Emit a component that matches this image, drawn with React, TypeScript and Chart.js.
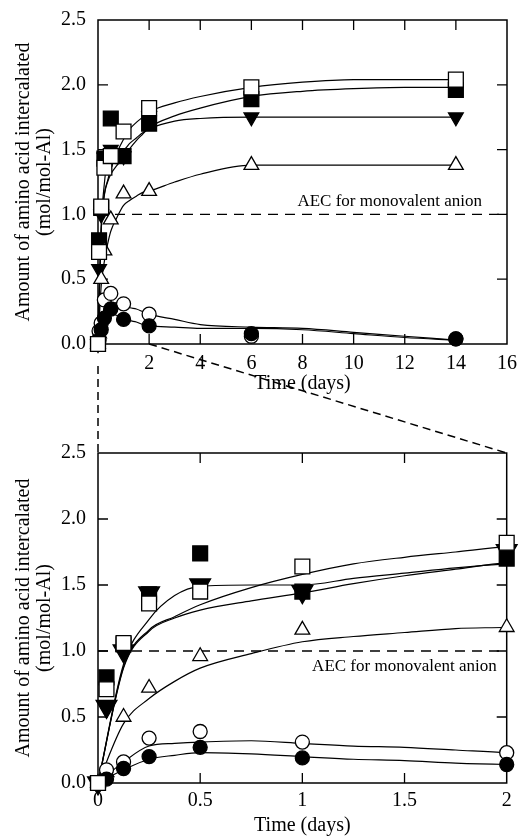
import React, { useEffect, useRef } from "react";
import { Chart, registerables } from "chart.js";

Chart.register(...registerables);

const FONT = "'Liberation Serif', 'Times New Roman', serif";

// ---- measured data (days, mol/mol-Al) ----
const TIME_DAYS = [0, 1 / 24, 0.125, 0.25, 0.5, 1, 2, 6, 14];
const SQ_FILLED = [0, 0.8, 1.05, 1.43, 1.74, 1.45, 1.7, 1.89, 1.96];
const SQ_OPEN = [0, 0.71, 1.06, 1.36, 1.45, 1.64, 1.82, 1.98, 2.04];
const TRI_DOWN = [0, 0.58, 1.0, 1.44, 1.5, 1.45, 1.76, 1.75, 1.75];
const TRI_UP = [0, 0.08, 0.5, 0.72, 0.96, 1.16, 1.18, 1.38, 1.38];
const CIRC_OPEN = [0, 0.1, 0.16, 0.34, 0.39, 0.31, 0.23, 0.06, 0.04];
const CIRC_FILLED = [0, 0.03, 0.11, 0.2, 0.27, 0.19, 0.14, 0.08, 0.04];

// ---- fitted curves ----
const FIT_T = [0, 0.125, 0.25, 0.375, 0.5, 0.75, 1, 1.25, 1.5, 1.75, 2, 3, 4, 6, 8, 10, 12, 14];
const FIT_SQ_OPEN = [0, 0.88, 1.16, 1.26, 1.35, 1.48, 1.58, 1.66, 1.71, 1.75, 1.79, 1.86, 1.91, 1.98, 2.02, 2.04, 2.04, 2.04];
const FIT_SQ_FILLED = [0, 0.87, 1.15, 1.25, 1.31, 1.38, 1.44, 1.51, 1.57, 1.62, 1.67, 1.76, 1.82, 1.91, 1.95, 1.97, 1.98, 1.98];
const FIT_TRI_DOWN = [0, 0.9, 1.24, 1.42, 1.49, 1.5, 1.5, 1.55, 1.59, 1.63, 1.66, 1.72, 1.74, 1.75, 1.75, 1.75, 1.75, 1.75];
const FIT_TRI_UP = [0, 0.45, 0.64, 0.77, 0.87, 0.98, 1.07, 1.11, 1.14, 1.17, 1.18, 1.25, 1.31, 1.38, 1.38, 1.38, 1.38, 1.38];
const FIT_CIRC_OPEN = [0, 0.16, 0.28, 0.3, 0.31, 0.32, 0.3, 0.28, 0.27, 0.25, 0.23, 0.19, 0.15, 0.13, 0.12, 0.09, 0.06, 0.03];
const FIT_CIRC_FILLED = [0, 0.1, 0.18, 0.21, 0.23, 0.22, 0.2, 0.18, 0.17, 0.15, 0.14, 0.13, 0.12, 0.12, 0.11, 0.08, 0.05, 0.03];

const AEC_LEVEL = 1.0;
const AEC_LABEL = "AEC for monovalent anion";
const X_TITLE = "Time (days)";
const Y_TITLE = ["Amount of amino acid intercalated", "(mol/mol-Al)"];
const Y_TICKS = [0, 0.5, 1, 1.5, 2, 2.5];
const Y_TICK_LABELS = ["0.0", "0.5", "1.0", "1.5", "2.0", "2.5"];
const TOP_X_TICKS = [0, 2, 4, 6, 8, 10, 12, 14, 16];
const TOP_X_LABELS = ["", "2", "4", "6", "8", "10", "12", "14", "16"];
const BOTTOM_X_TICKS = [0, 0.5, 1, 1.5, 2];
const BOTTOM_X_LABELS = ["0", "0.5", "1", "1.5", "2"];
const TOP_X_MAX = 16;
const BOTTOM_X_MAX = 2;
const Y_MAX = 2.5;

type Series = {
  values: number[];
  fit: number[];
  style: string;
  rot: number;
  filled: boolean;
  order: number;
};

const SERIES: Series[] = [
  { values: SQ_FILLED, fit: FIT_SQ_FILLED, style: "rect", rot: 0, filled: true, order: 10 },
  { values: TRI_DOWN, fit: FIT_TRI_DOWN, style: "triangle", rot: 180, filled: true, order: 9 },
  { values: TRI_UP, fit: FIT_TRI_UP, style: "triangle", rot: 0, filled: false, order: 8 },
  { values: CIRC_OPEN, fit: FIT_CIRC_OPEN, style: "circle", rot: 0, filled: false, order: 7 },
  { values: CIRC_FILLED, fit: FIT_CIRC_FILLED, style: "circle", rot: 0, filled: true, order: 6 },
  { values: SQ_OPEN, fit: FIT_SQ_OPEN, style: "rect", rot: 0, filled: false, order: 5 },
];

function radiusFor(s: Series, isTop: boolean) {
  if (s.style === "rect") return 10.5;
  if (s.style === "circle") return 7;
  if (s.rot === 180) return isTop ? 8.5 : 12;
  return 8.5;
}

function buildDatasets(xMax: number, isTop: boolean) {
  const ds: any[] = [];
  ds.push({
    data: [
      { x: 0, y: AEC_LEVEL },
      { x: xMax, y: AEC_LEVEL },
    ],
    borderColor: "#000",
    borderWidth: 1.3,
    borderDash: [10, 7],
    pointRadius: 0,
    fill: false,
    order: 30,
  });
  for (const s of SERIES) {
    ds.push({
      data: FIT_T.map((t, i) => ({ x: t, y: s.fit[i] })),
      borderColor: "#000",
      borderWidth: 1.2,
      pointRadius: 0,
      fill: false,
      cubicInterpolationMode: "monotone",
      order: 20,
    });
  }
  for (const s of SERIES) {
    const pts = TIME_DAYS.map((t, i) => ({ x: t, y: s.values[i] })).filter((p) => p.x <= xMax);
    ds.push({
      data: pts,
      showLine: false,
      pointStyle: s.style,
      pointRotation: s.rot,
      pointRadius: radiusFor(s, isTop),
      pointBackgroundColor: s.filled ? "#000" : "#fff",
      pointBorderColor: "#000",
      pointBorderWidth: 1.3,
      clip: false,
      order: s.order,
    });
  }
  return ds;
}

const TICK_LEN = 10;

function decorPlugin(isTop: boolean) {
  return {
    id: "decor",
    beforeDatasetsDraw(chart: any) {
      const { ctx, chartArea: a, scales } = chart;
      const x = scales.x;
      const y = scales.y;
      ctx.save();
      ctx.strokeStyle = "#000";
      ctx.lineWidth = 1.5;
      ctx.strokeRect(a.left, a.top, a.right - a.left, a.bottom - a.top);
      ctx.lineWidth = 1.3;
      ctx.beginPath();
      for (const t of x.ticks) {
        const v = t.value;
        if (v <= x.min || v >= x.max) continue;
        const px = x.getPixelForValue(v);
        ctx.moveTo(px, a.bottom);
        ctx.lineTo(px, a.bottom - TICK_LEN);
        ctx.moveTo(px, a.top);
        ctx.lineTo(px, a.top + TICK_LEN);
      }
      for (const t of y.ticks) {
        const v = t.value;
        if (v <= y.min || v >= y.max) continue;
        const py = y.getPixelForValue(v);
        ctx.moveTo(a.left, py);
        ctx.lineTo(a.left + TICK_LEN, py);
        ctx.moveTo(a.right, py);
        ctx.lineTo(a.right - TICK_LEN, py);
      }
      ctx.stroke();
      ctx.font = `17px ${FONT}`;
      ctx.fillStyle = "#000";
      ctx.textAlign = "right";
      ctx.textBaseline = "middle";
      const yy = y.getPixelForValue(AEC_LEVEL);
      ctx.fillText(AEC_LABEL, a.right - (isTop ? 25 : 10), yy + (isTop ? -13 : 16));
      ctx.restore();
    },
  };
}

function makeConfig(isTop: boolean): any {
  const xMax = isTop ? TOP_X_MAX : BOTTOM_X_MAX;
  const xTicks = isTop ? TOP_X_TICKS : BOTTOM_X_TICKS;
  const xLabels = isTop ? TOP_X_LABELS : BOTTOM_X_LABELS;
  const tickFont = { family: FONT, size: 20 };
  return {
    type: "line",
    data: { datasets: buildDatasets(xMax, isTop) },
    options: {
      responsive: false,
      animation: false,
      events: [],
      layout: { padding: { top: isTop ? 20 : 53, right: 13, left: 0, bottom: 0 } },
      plugins: { legend: { display: false }, tooltip: { enabled: false } },
      scales: {
        x: {
          type: "linear",
          min: 0,
          max: xMax,
          grid: { display: false },
          border: { display: false },
          afterBuildTicks: (s: any) => {
            s.ticks = xTicks.map((v) => ({ value: v }));
          },
          afterFit: (s: any) => {
            s.height = isTop ? 56 : 53;
          },
          ticks: {
            autoSkip: false,
            maxRotation: 0,
            padding: isTop ? 0 : -2,
            color: "#000",
            font: tickFont,
            callback: (_v: any, i: number) => xLabels[i],
          },
          title: {
            display: true,
            text: X_TITLE,
            color: "#000",
            font: { family: FONT, size: 20 },
            padding: { top: 0, bottom: isTop ? 4 : -2 },
          },
        },
        y: {
          type: "linear",
          min: 0,
          max: Y_MAX,
          grid: { display: false },
          border: { display: false },
          afterBuildTicks: (s: any) => {
            s.ticks = Y_TICKS.map((v) => ({ value: v }));
          },
          afterFit: (s: any) => {
            s.width = 98;
          },
          ticks: {
            padding: 4,
            color: "#000",
            font: tickFont,
            callback: (_v: any, i: number) => Y_TICK_LABELS[i],
          },
          title: {
            display: true,
            text: Y_TITLE,
            color: "#000",
            font: { family: FONT, size: 20, lineHeight: 1.05 },
            padding: { top: 13, bottom: 0 },
          },
        },
      },
    },
    plugins: [decorPlugin(isTop)],
  };
}

const TOP_H = 400;
const BOTTOM_H = 436;

export default function App() {
  const topRef = useRef<HTMLCanvasElement>(null);
  const botRef = useRef<HTMLCanvasElement>(null);
  const ovRef = useRef<HTMLCanvasElement>(null);

  useEffect(() => {
    const top = new Chart(topRef.current as HTMLCanvasElement, makeConfig(true));
    const bot = new Chart(botRef.current as HTMLCanvasElement, makeConfig(false));
    const ov = ovRef.current as HTMLCanvasElement;
    const ctx = ov.getContext("2d") as CanvasRenderingContext2D;
    ctx.clearRect(0, 0, ov.width, ov.height);
    const tx = top.scales.x;
    const ty = top.scales.y;
    const bx = bot.scales.x;
    const by = bot.scales.y;
    const off = TOP_H;
    ctx.save();
    ctx.strokeStyle = "#000";
    ctx.lineWidth = 1.5;
    ctx.setLineDash([8, 5]);
    ctx.beginPath();
    ctx.moveTo(tx.getPixelForValue(0), ty.getPixelForValue(0) + 22);
    ctx.lineTo(bx.getPixelForValue(0), by.getPixelForValue(Y_MAX) + off);
    ctx.moveTo(tx.getPixelForValue(BOTTOM_X_MAX), ty.getPixelForValue(0));
    ctx.lineTo(bx.getPixelForValue(BOTTOM_X_MAX), by.getPixelForValue(Y_MAX) + off);
    ctx.stroke();
    ctx.restore();
    return () => {
      top.destroy();
      bot.destroy();
    };
  }, []);

  return (
    <div style={{ position: "absolute", left: 0, top: 0, width: 520, height: 836, background: "#fff" }}>
      <canvas
        ref={topRef}
        width={520}
        height={TOP_H}
        style={{ position: "absolute", left: 0, top: 0, width: 520, height: TOP_H }}
      />
      <canvas
        ref={botRef}
        width={520}
        height={BOTTOM_H}
        style={{ position: "absolute", left: 0, top: TOP_H, width: 520, height: BOTTOM_H }}
      />
      <canvas
        ref={ovRef}
        width={520}
        height={836}
        style={{ position: "absolute", left: 0, top: 0, width: 520, height: 836, pointerEvents: "none" }}
      />
    </div>
  );
}
